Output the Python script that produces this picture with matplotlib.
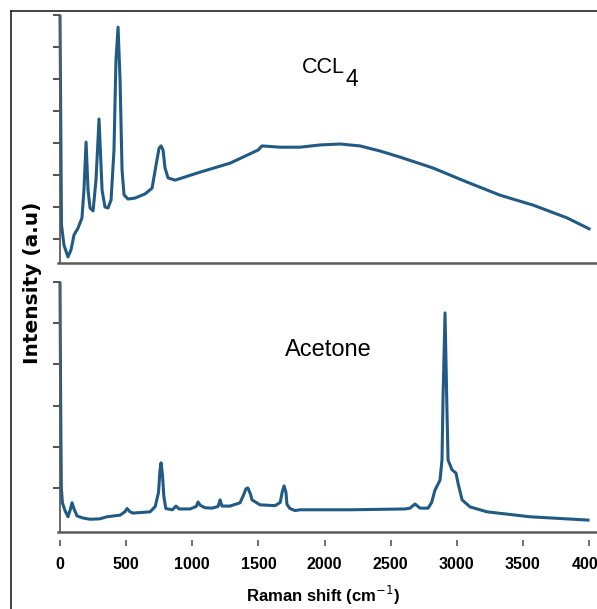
import matplotlib.pyplot as plt
from matplotlib import font_manager
from matplotlib.lines import Line2D

# CCl4 spectrum (Raman shift in cm-1, intensity a.u.)
ccl4_shift = [0, 11, 30, 60, 83, 106, 136, 166, 181, 197, 212, 227, 250, 272, 295,
              318, 340, 363, 386, 408, 423, 439, 454, 469, 484, 514, 567, 643, 696,
              726, 749, 764, 779, 794, 817, 870, 1059, 1285, 1497, 1527, 1664, 1815,
              1966, 2117, 2268, 2420, 2571, 2820, 3077, 3327, 3577, 3834, 4000]
ccl4_int = [8.0, 1.44, 0.81, 0.44, 0.66, 1.13, 1.34, 1.66, 2.53, 4.03, 2.53, 1.97,
            1.88, 2.84, 4.75, 2.53, 2.0, 1.97, 2.22, 3.78, 6.59, 7.62, 5.97, 3.16,
            2.38, 2.25, 2.28, 2.41, 2.59, 3.31, 3.84, 3.91, 3.78, 3.22, 2.91, 2.84,
            3.09, 3.37, 3.78, 3.91, 3.87, 3.87, 3.94, 3.97, 3.91, 3.75, 3.56, 3.22,
            2.78, 2.37, 2.06, 1.66, 1.32]

# Acetone spectrum
acet_shift = [0, 5, 10, 18, 38, 60, 80, 91, 105, 129, 174, 227, 300, 355, 454, 490,
              507, 530, 552, 681, 720, 745, 755, 764, 775, 785, 800, 850, 877, 900,
              983, 1030, 1043, 1060, 1096, 1149, 1195, 1210, 1225, 1285, 1361, 1384,
              1406, 1420, 1440, 1452, 1512, 1626, 1665, 1680, 1694, 1708, 1716, 1739,
              1777, 1815, 2193, 2609, 2647, 2684, 2722, 2783, 2810, 2835, 2873, 2888,
              2896, 2911, 2926, 2934, 2964, 2994, 3009, 3040, 3100, 3229, 3554, 3992]
acet_int = [6.0, 3.0, 1.0, 0.64, 0.45, 0.30, 0.50, 0.64, 0.50, 0.32, 0.27, 0.24,
            0.25, 0.30, 0.34, 0.42, 0.50, 0.42, 0.39, 0.42, 0.55, 0.90, 1.40, 1.61,
            1.30, 0.80, 0.50, 0.47, 0.56, 0.49, 0.49, 0.55, 0.66, 0.58, 0.52, 0.51,
            0.55, 0.71, 0.56, 0.56, 0.64, 0.80, 0.98, 1.00, 0.85, 0.71, 0.59, 0.57,
            0.65, 0.90, 1.05, 0.90, 0.60, 0.50, 0.45, 0.47, 0.47, 0.49, 0.51, 0.61,
            0.51, 0.51, 0.65, 0.95, 1.19, 1.68, 3.21, 5.25, 2.82, 1.68, 1.44, 1.36,
            1.12, 0.71, 0.54, 0.42, 0.30, 0.22]

xticks = [0, 500, 1000, 1500, 2000, 2500, 3000, 3500, 4000]

line_col = '#215b85'
axis_col = '#5a5a5a'


def first_font(names):
    for n in names:
        try:
            font_manager.findfont(font_manager.FontProperties(family=n),
                                  fallback_to_default=False)
            return n
        except ValueError:
            pass
    return 'DejaVu Sans'


narrow = first_font(['Liberation Sans Narrow', 'DejaVu Sans Condensed',
                     'Liberation Sans'])

fig = plt.figure(figsize=(5.97, 6.09), dpi=100)

ax1 = fig.add_axes([0.0972, 0.5681, 0.9028, 0.4072])
ax2 = fig.add_axes([0.0972, 0.1264, 0.9028, 0.4105])

for ax in (ax1, ax2):
    ax.set_xlim(-15, 4060)
    ax.spines['top'].set_visible(False)
    ax.spines['right'].set_visible(False)
    ax.spines['left'].set_position(('data', 0))
    ax.spines['left'].set_color(axis_col)
    ax.spines['left'].set_linewidth(1.3)
    ax.tick_params(axis='y', direction='out', length=5, width=1.2,
                   color='#333333', labelleft=False)

ax1.plot(ccl4_shift, ccl4_int, color=line_col, lw=2.2, solid_joinstyle='round')
ax1.set_ylim(0.25, 8.0)
ax1.set_yticks(range(1, 9))
ax1.spines['bottom'].set_color(axis_col)
ax1.spines['bottom'].set_linewidth(1.8)
ax1.tick_params(axis='x', bottom=False, labelbottom=False)

ax2.plot(acet_shift, acet_int, color=line_col, lw=2.2, solid_joinstyle='round')
ax2.set_ylim(-0.07, 6.0)
ax2.set_yticks(range(1, 7))
# detached x tick marks below the axis line
ax2.spines['bottom'].set_color('none')
ax2.spines['bottom'].set_position(('outward', 6))
ax2.axhline(-0.07, color=axis_col, lw=1.8, clip_on=False)
ax2.set_xticks(xticks)
ax2.set_xticklabels([str(t) for t in xticks], family=narrow,
                    fontweight='bold', fontsize=11.5)
ax2.tick_params(axis='x', direction='out', length=4, width=1.2,
                color='#555555', pad=8)

# CCL with a large, lowered "4"
ccl = fig.text(0.505, 0.889, 'CCL', family=narrow, fontsize=15.5,
               ha='left', va='center')
ax1.annotate('4', xy=(1.0, 0.0), xycoords=ccl, xytext=(1, 7.5),
             textcoords='offset points', family=narrow, fontsize=16.5,
             ha='left', va='top')
fig.text(0.477, 0.425, 'Acetone', family=narrow, fontsize=17, ha='left', va='center')

fig.text(0.541, 0.022, r'Raman shift (cm$^{-1}$)', family=narrow,
         fontweight='bold', fontsize=12, ha='center', va='center')
fig.text(0.054, 0.535, 'Intensity (a.u)', fontweight='bold', fontsize=14.5,
         rotation=90, ha='center', va='center')

# outer frame (left and top edges)
fig.add_artist(Line2D([11 / 597, 11 / 597], [0, 1 - 11 / 609],
                      color='#222222', lw=1.2, transform=fig.transFigure))
fig.add_artist(Line2D([11 / 597, 1], [1 - 11 / 609, 1 - 11 / 609],
                      color='#222222', lw=1.2, transform=fig.transFigure))

fig.savefig('out.png', dpi=100)
